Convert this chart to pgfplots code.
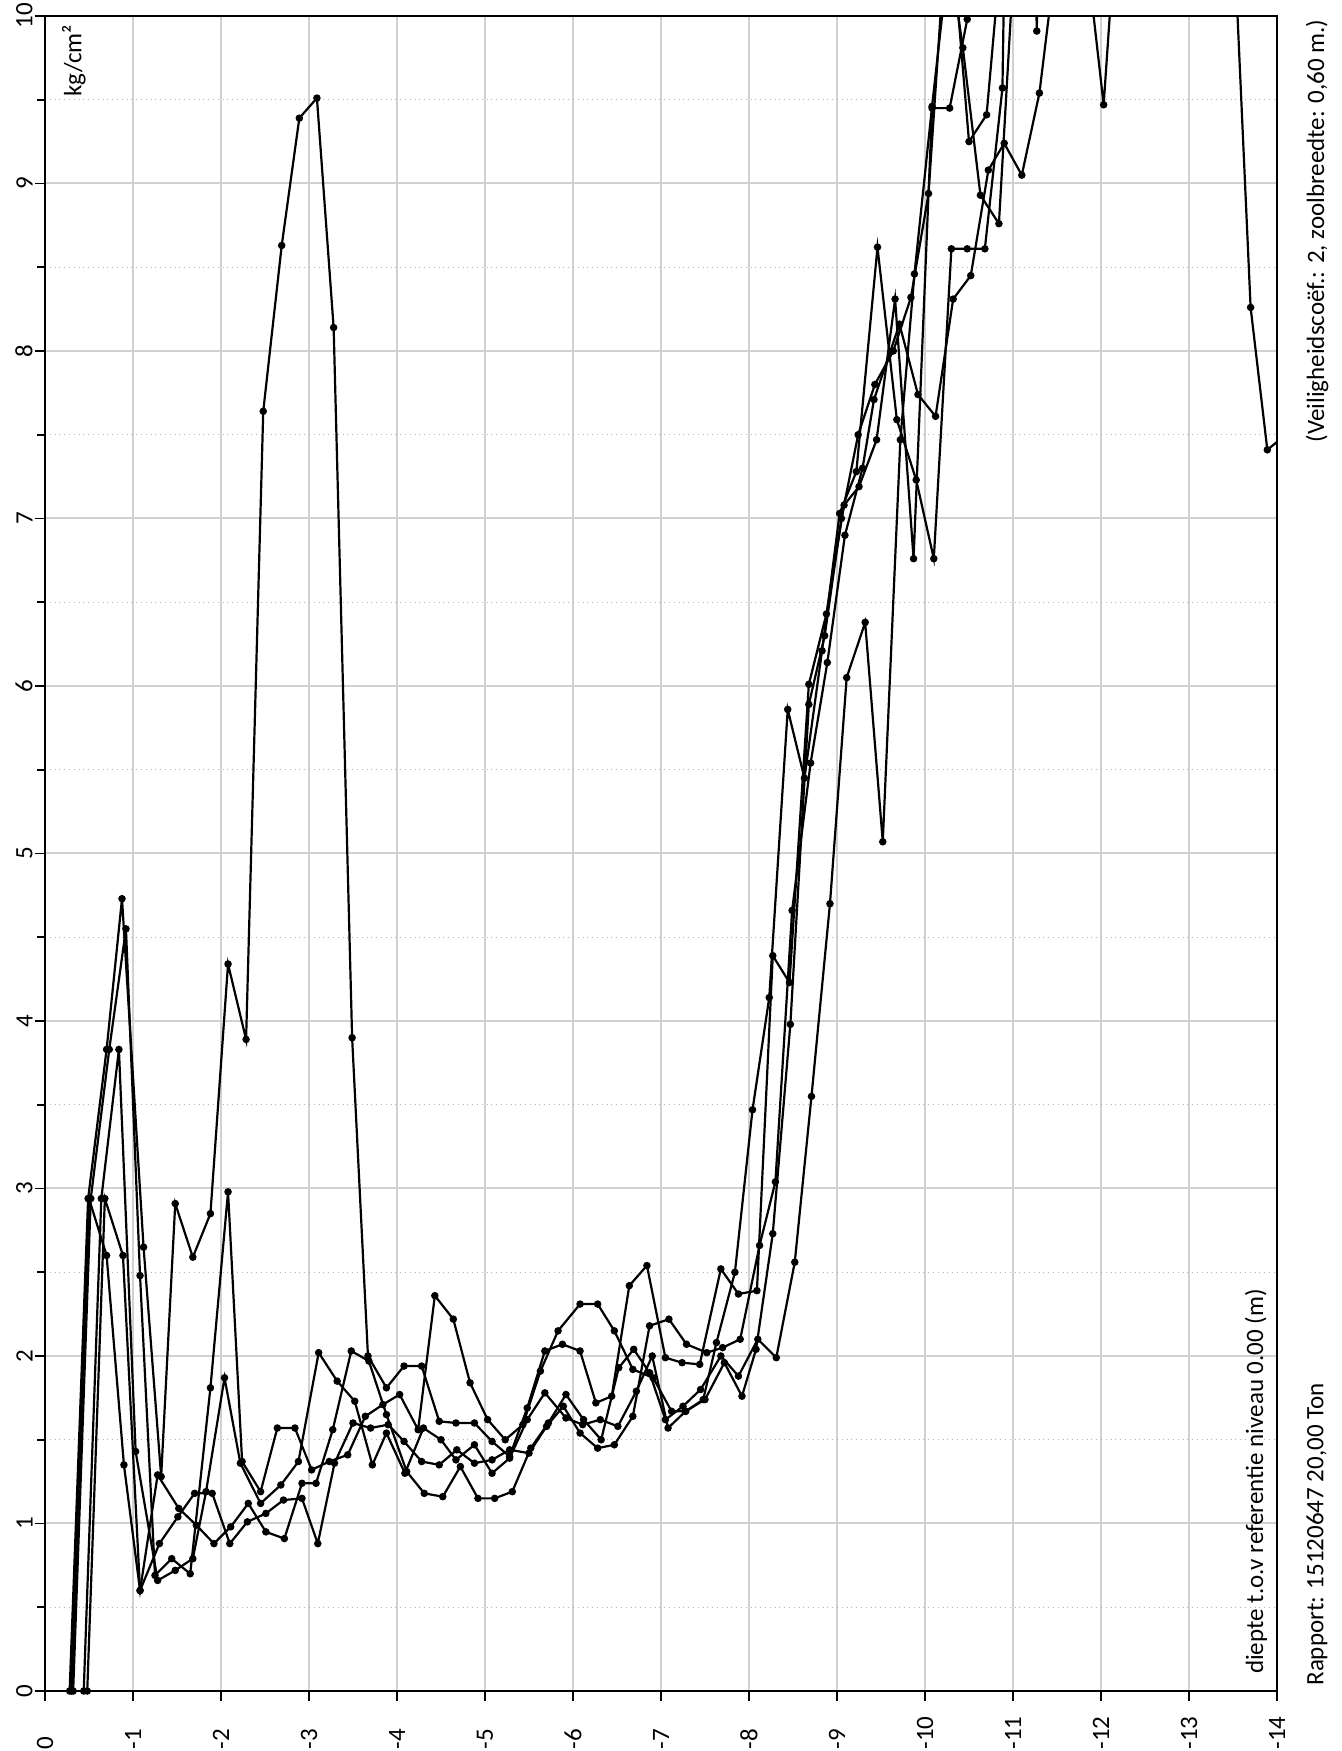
\documentclass[border=0pt]{standalone}
\usepackage{fontspec}
\setmainfont{Carlito}
\usepackage{pgfplots}
\pgfplotsset{compat=1.18}
\usetikzlibrary{calc}
\tikzset{ser/.style={black, line width=1.1pt, mark=*, mark size=1.3pt, mark options={solid, fill=black}}}
\begin{document}
\begin{tikzpicture}[font=\fontsize{12.5pt}{15pt}\selectfont]
\begin{axis}[
  name=ax,
  scale only axis, width=616pt, height=837.5pt,
  xmin=0, xmax=14, ymin=0, ymax=10,
  xtick={0,1,...,14},
  xticklabels={0,-1,-2,-3,-4,-5,-6,-7,-8,-9,-10,-11,-12,-13,-14},
  ytick={0,1,...,10},
  minor ytick={0.5,1.5,...,9.5},
  grid=both,
  major grid style={black!18, line width=1pt},
  minor grid style={black!30, dotted, line width=0.7pt},
  axis line style={black, line width=1pt},
  tick align=outside, tick pos=left,
  major tick length=5pt, minor tick length=4pt,
  tick style={black, line width=0.8pt},
  /pgf/number format/assume math mode=true,
  yticklabel style={rotate=90, anchor=south, inner sep=1pt},
  xticklabel style={rotate=90, anchor=east, text width=24pt, align=left, inner sep=0pt},
  clip mode=individual,
]
% Series A
\addplot[ser] coordinates {(0.28,0) (0.49,2.94) (0.70,3.83) (0.875,4.73) (1.12,2.65) (1.32,1.28) (1.48,2.91) (1.68,2.59) (1.88,2.85) (2.08,4.34) (2.285,3.89) (2.48,7.64) (2.69,8.63) (2.89,9.39) (3.09,9.51) (3.28,8.14) (3.49,3.90) (3.67,2.00) (3.88,1.81) (4.08,1.94) (4.28,1.94) (4.48,1.61) (4.67,1.60) (4.88,1.60) (5.08,1.49) (5.28,1.40) (5.48,1.69) (5.68,2.03) (5.88,2.07) (6.08,2.03) (6.26,1.72) (6.44,1.76) (6.64,2.42) (6.84,2.54) (7.05,1.99) (7.24,1.96) (7.44,1.95) (7.68,2.52) (7.88,2.37) (8.09,2.39) (8.27,4.39) (8.46,4.23) (8.68,6.01) (8.88,6.43) (9.08,7.08) (9.25,7.19) (9.45,7.47) (9.66,8.31) (9.87,6.76) (10.08,9.45) (10.28,9.45) (10.48,9.98) (10.68,11.0) (11.0,12.0) (13.3,12.0) (13.5,10.6) (13.70,8.26) (13.89,7.41) (14.1,7.5)};
% Series B
\addplot[ser] coordinates {(0.32,0) (0.52,2.94) (0.73,3.83) (0.92,4.55) (1.08,2.48) (1.25,0.69) (1.44,0.79) (1.65,0.70) (1.88,1.81) (2.08,2.98) (2.24,1.37) (2.45,1.19) (2.64,1.57) (2.84,1.57) (3.03,1.32) (3.23,1.37) (3.44,1.41) (3.64,1.64) (3.84,1.71) (4.03,1.77) (4.24,1.56) (4.43,2.36) (4.64,2.22) (4.83,1.84) (5.03,1.62) (5.23,1.50) (5.43,1.59) (5.63,1.91) (5.83,2.15) (6.08,2.31) (6.28,2.31) (6.47,2.15) (6.68,1.92) (6.91,1.87) (7.12,1.67) (7.28,1.67) (7.48,1.74) (7.63,2.08) (7.84,2.50) (8.04,3.47) (8.23,4.14) (8.44,5.86) (8.63,5.45) (8.83,6.21) (9.03,7.03) (9.22,7.28) (9.46,8.62) (9.68,7.59) (9.90,7.23) (10.10,6.76) (10.30,8.61) (10.48,8.61) (10.68,8.61) (10.88,9.57) (11.07,16) (11.27,9.91) (11.47,16)};
% Series C
\addplot[ser] coordinates {(0.44,0) (0.64,2.94) (0.84,3.83) (1.03,1.43) (1.28,0.66) (1.48,0.72) (1.68,0.79) (1.83,1.19) (2.04,1.87) (2.22,1.36) (2.45,1.12) (2.68,1.23) (2.88,1.37) (3.11,2.02) (3.32,1.85) (3.52,1.73) (3.72,1.35) (3.88,1.54) (4.09,1.30) (4.30,1.57) (4.50,1.50) (4.67,1.38) (4.88,1.47) (5.08,1.30) (5.28,1.39) (5.48,1.62) (5.68,1.78) (5.92,1.63) (6.11,1.59) (6.31,1.62) (6.51,1.58) (6.72,1.79) (6.90,2.00) (7.08,1.57) (7.28,1.67) (7.50,1.74) (7.72,1.96) (7.92,1.76) (8.08,2.04) (8.27,2.73) (8.47,3.98) (8.68,5.89) (8.86,6.30) (9.05,7.00) (9.24,7.50) (9.43,7.80) (9.64,8.00) (9.84,8.32) (10.04,8.94) (10.24,10.5) (10.43,9.81) (10.63,8.93) (10.84,8.76) (11.04,10.6) (11.3,11.5)};
% Series D
\addplot[ser] coordinates {(0.48,0) (0.68,2.94) (0.886,2.60) (1.08,0.60) (1.30,0.88) (1.51,1.04) (1.70,1.18) (1.90,1.18) (2.10,0.88) (2.30,1.01) (2.51,1.06) (2.71,1.14) (2.92,1.15) (3.10,0.88) (3.29,1.36) (3.50,1.60) (3.70,1.57) (3.90,1.59) (4.08,1.49) (4.28,1.37) (4.48,1.35) (4.68,1.44) (4.88,1.36) (5.08,1.38) (5.28,1.44) (5.50,1.42) (5.70,1.58) (5.89,1.70) (6.08,1.54) (6.28,1.45) (6.47,1.47) (6.68,1.64) (6.87,2.18) (7.09,2.22) (7.29,2.07) (7.52,2.02) (7.70,2.05) (7.90,2.10) (8.12,2.66) (8.30,3.04) (8.49,4.66) (8.70,5.54) (8.89,6.14) (9.09,6.90) (9.29,7.30) (9.42,7.71) (9.71,8.16) (9.92,7.74) (10.12,7.61) (10.32,8.31) (10.52,8.45) (10.72,9.08) (10.90,9.24) (11.10,9.05) (11.30,9.54) (11.50,10.4) (11.83,10.4) (12.03,9.47) (12.23,11)};
% Series E
\addplot[ser] coordinates {(0.30,0) (0.50,2.94) (0.70,2.60) (0.897,1.35) (1.08,0.60) (1.28,1.29) (1.52,1.09) (1.72,0.99) (1.92,0.88) (2.11,0.98) (2.31,1.12) (2.51,0.95) (2.72,0.91) (2.92,1.24) (3.08,1.24) (3.27,1.56) (3.48,2.03) (3.68,1.97) (3.88,1.65) (4.11,1.31) (4.31,1.18) (4.52,1.16) (4.72,1.34) (4.92,1.15) (5.11,1.15) (5.31,1.19) (5.52,1.45) (5.72,1.60) (5.92,1.77) (6.12,1.62) (6.32,1.50) (6.52,1.93) (6.69,2.04) (6.87,1.90) (7.05,1.62) (7.25,1.70) (7.45,1.80) (7.68,2.00) (7.88,1.88) (8.10,2.10) (8.31,1.99) (8.52,2.56) (8.71,3.55) (8.92,4.70) (9.11,6.05) (9.32,6.38) (9.52,5.07) (9.72,7.47) (9.88,8.46) (10.08,9.46) (10.30,10.5) (10.50,9.25) (10.70,9.41) (10.90,10.6) (11.2,11.5)};
\node[rotate=90, anchor=east, inner sep=0pt] at (rel axis cs:0.0235,0.995) {kg/cm²};
\node[rotate=90, anchor=west, inner sep=0pt] at (rel axis cs:0.983,0.01) {diepte t.o.v referentie niveau 0.00 (m)};
\node[rotate=90, anchor=west, inner sep=0pt] at (rel axis cs:1.0325,0.003) {Rapport: 15120647 20,00 Ton};
\node[rotate=90, anchor=east, inner sep=0pt] at (rel axis cs:1.0325,0.998) {(Veiligheidscoëf.: 2, zoolbreedte: 0,60 m.)};
\end{axis}
\pgfresetboundingbox
\path ($(ax.south west)+(-22.5pt,-30pt)$) rectangle ($(ax.north east)+(32.5pt,8pt)$);
\end{tikzpicture}
\end{document}
